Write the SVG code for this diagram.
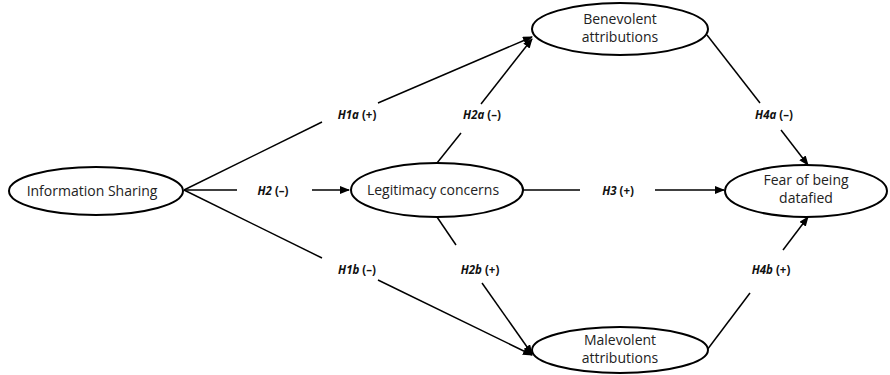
<svg xmlns="http://www.w3.org/2000/svg" width="890" height="375" viewBox="0 0 890 375">
<style>
.node{fill:#fff;stroke:#000;stroke-width:2}
.t{font-family:"Open Sans","Liberation Sans",sans-serif;font-size:14px;fill:#222;text-anchor:middle}
.l{font-family:"Open Sans","Liberation Sans",sans-serif;font-size:11.5px;font-weight:bold;fill:#111;text-anchor:middle}
.l tspan.i{font-style:italic}
.c line{stroke:#000;stroke-width:1.5}
</style>
<defs>
<marker id="a" markerWidth="10" markerHeight="8" refX="9" refY="4" orient="auto" markerUnits="userSpaceOnUse">
<path d="M0,0 L10,4 L0,8 Z" fill="#000"/>
</marker>
</defs>
<g class="c" id="connectors">
<line x1="184" y1="190" x2="322" y2="122"/>
<line x1="378" y1="103" x2="532" y2="37" marker-end="url(#a)"/>
<line x1="184" y1="190" x2="237" y2="190"/>
<line x1="312" y1="190" x2="349" y2="190" marker-end="url(#a)"/>
<line x1="184" y1="190" x2="322" y2="258"/>
<line x1="378" y1="280" x2="532" y2="355" marker-end="url(#a)"/>
<line x1="437" y1="163" x2="461" y2="133"/>
<line x1="481" y1="104" x2="532" y2="39" marker-end="url(#a)"/>
<line x1="437" y1="217" x2="456" y2="245"/>
<line x1="482" y1="283" x2="532" y2="354" marker-end="url(#a)"/>
<line x1="523" y1="190" x2="580" y2="190"/>
<line x1="655" y1="190" x2="724" y2="190" marker-end="url(#a)"/>
<line x1="707" y1="35" x2="760" y2="103"/>
<line x1="781" y1="130" x2="808" y2="165" marker-end="url(#a)"/>
<line x1="707" y1="350" x2="750" y2="293"/>
<line x1="783" y1="250" x2="808" y2="217" marker-end="url(#a)"/>
</g>
<g class="l" id="labels">
<text x="357" y="119"><tspan class="i">H1a</tspan> (+)</text>
<text x="482" y="119"><tspan class="i">H2a</tspan> (–)</text>
<text x="774" y="119"><tspan class="i">H4a</tspan> (–)</text>
<text x="273" y="195"><tspan class="i">H2</tspan> (–)</text>
<text x="618" y="195"><tspan class="i">H3</tspan> (+)</text>
<text x="357" y="274"><tspan class="i">H1b</tspan> (–)</text>
<text x="480" y="274"><tspan class="i">H2b</tspan> (+)</text>
<text x="771" y="274"><tspan class="i">H4b</tspan> (+)</text>
</g>
<g id="info-sharing"><ellipse class="node" cx="96" cy="191" rx="87" ry="24"/><text class="t" x="92" y="196">Information Sharing</text></g>
<g id="legitimacy"><ellipse class="node" cx="437" cy="190" rx="86" ry="27"/><text class="t" x="433" y="195">Legitimacy concerns</text></g>
<g id="fear"><ellipse class="node" cx="806" cy="191" rx="81" ry="26"/><text class="t" x="806" y="185">Fear of being</text><text class="t" x="806" y="203">datafied</text></g>
<g id="benevolent"><ellipse class="node" cx="620" cy="29" rx="88" ry="26"/><text class="t" x="620" y="24">Benevolent</text><text class="t" x="620" y="42">attributions</text></g>
<g id="malevolent"><ellipse class="node" cx="620" cy="350" rx="88" ry="23"/><text class="t" x="620" y="345">Malevolent</text><text class="t" x="620" y="363">attributions</text></g>
</svg>
